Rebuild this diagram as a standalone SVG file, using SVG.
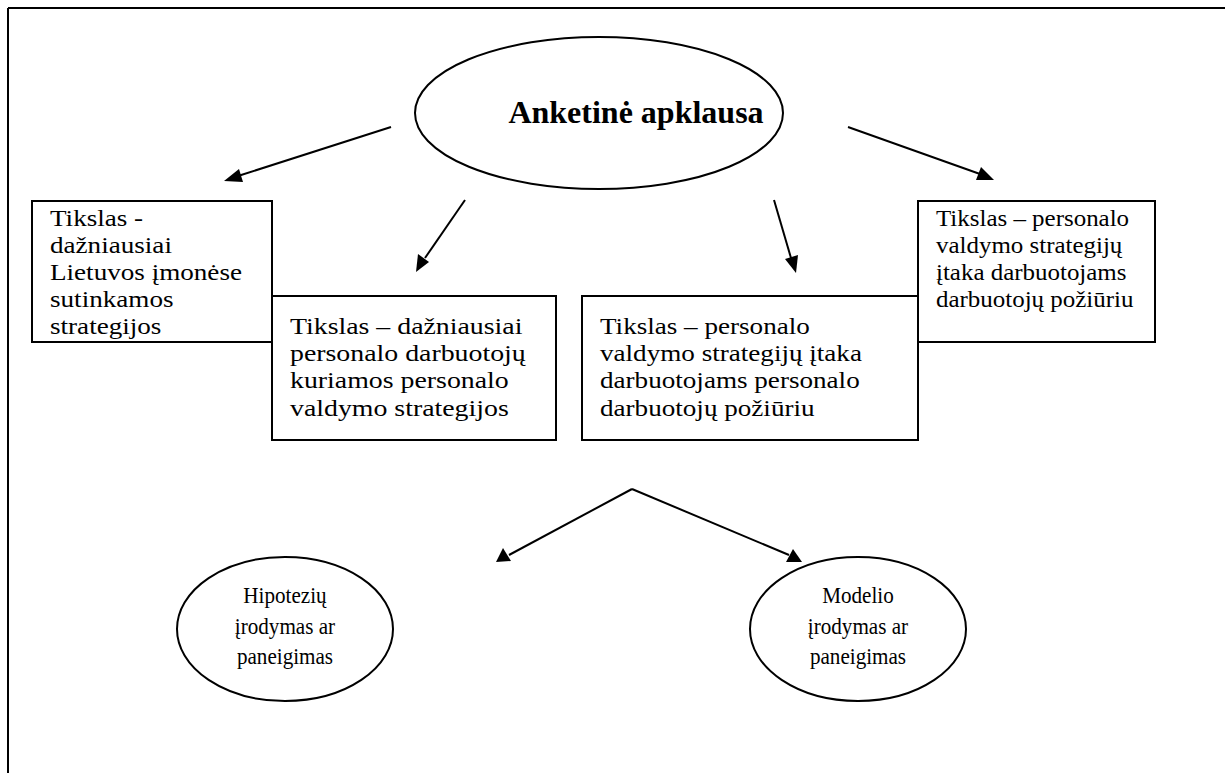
<svg xmlns="http://www.w3.org/2000/svg" width="1225" height="773" viewBox="0 0 1225 773">
<style>
.t{font-family:"Liberation Serif","Times New Roman",serif;font-size:24px;fill:#000}
.c{text-anchor:middle}
.b{fill:#fff;stroke:#000;stroke-width:2}
.e{fill:#fff;stroke:#000;stroke-width:2}
.ln{stroke:#000;stroke-width:2;fill:none}
.ah{fill:#000}
</style>
<defs>
<clipPath id="cb1"><rect x="32" y="201" width="240" height="139"/></clipPath>
</defs>
<rect width="1225" height="773" fill="#fff"/>
<g id="frame" stroke="#000" stroke-width="2" fill="none">
<line x1="8" y1="8" x2="1225" y2="8"/>
<line x1="8" y1="8" x2="8" y2="773"/>
</g>
<g id="connectors">
<line class="ln" x1="391" y1="127" x2="238" y2="176"/>
<path class="ah" d="M224,181 L239,169 L243,182 Z"/>
<line class="ln" x1="848" y1="127" x2="980" y2="174"/>
<path class="ah" d="M994,180 L976,180 L981,167 Z"/>
<line class="ln" x1="465" y1="200" x2="425" y2="258"/>
<path class="ah" d="M416,272 L418,254 L429,262 Z"/>
<line class="ln" x1="774" y1="200" x2="791" y2="258"/>
<path class="ah" d="M796,273 L785,259 L798,255 Z"/>
<line class="ln" x1="632" y1="489" x2="509" y2="555"/>
<path class="ah" d="M496,562 L503,548 L511,561 Z"/>
<line class="ln" x1="632" y1="489" x2="789" y2="555"/>
<path class="ah" d="M802,562 L786,562 L793,549 Z"/>
</g>
<g id="n-main">
<ellipse class="e" cx="599" cy="113" rx="184" ry="76"/>
<text class="t c" x="636" y="123" style="font-size:32px;font-weight:bold">Anketinė apklausa</text>
</g>
<g id="n-box1">
<rect class="b" x="32" y="201" width="240" height="141"/>
<g clip-path="url(#cb1)">
<g transform="translate(50,0) scale(1.13,1) translate(-50,0)">
<text class="t" x="50" y="226">Tikslas -</text>
<text class="t" x="50" y="253">dažniausiai</text>
<text class="t" x="50" y="280">Lietuvos įmonėse</text>
<text class="t" x="50" y="307">sutinkamos</text>
<text class="t" x="50" y="334">strategijos</text>
</g>
</g>
</g>
<g id="n-box4">
<rect class="b" x="918" y="201" width="237" height="141"/>
<g transform="translate(936,0) scale(1.04,1) translate(-936,0)">
<text class="t" x="936" y="226">Tikslas – personalo</text>
<text class="t" x="936" y="253">valdymo strategijų</text>
<text class="t" x="936" y="280">įtaka darbuotojams</text>
<text class="t" x="936" y="307">darbuotojų požiūriu</text>
</g>
</g>
<g id="n-box2">
<rect class="b" x="272" y="296" width="284" height="144"/>
<g transform="translate(290,0) scale(1.16,1) translate(-290,0)">
<text class="t" x="290" y="334">Tikslas – dažniausiai</text>
<text class="t" x="290" y="361">personalo darbuotojų</text>
<text class="t" x="290" y="388">kuriamos personalo</text>
<text class="t" x="290" y="416">valdymo strategijos</text>
</g>
</g>
<g id="n-box3">
<rect class="b" x="582" y="296" width="336" height="144"/>
<g transform="translate(600,0) scale(1.13,1) translate(-600,0)">
<text class="t" x="600" y="334">Tikslas – personalo</text>
<text class="t" x="600" y="361">valdymo strategijų įtaka</text>
<text class="t" x="600" y="388">darbuotojams personalo</text>
<text class="t" x="600" y="416">darbuotojų požiūriu</text>
</g>
</g>
<g id="n-hyp">
<ellipse class="e" cx="285" cy="629" rx="108" ry="72"/>
<g transform="translate(285,0) scale(0.88,1) translate(-285,0)">
<text class="t c" x="285" y="603">Hipotezių</text>
<text class="t c" x="285" y="634">įrodymas ar</text>
<text class="t c" x="285" y="664">paneigimas</text>
</g>
</g>
<g id="n-mod">
<ellipse class="e" cx="858" cy="629" rx="108" ry="72"/>
<g transform="translate(858,0) scale(0.88,1) translate(-858,0)">
<text class="t c" x="858" y="603">Modelio</text>
<text class="t c" x="858" y="634">įrodymas ar</text>
<text class="t c" x="858" y="664">paneigimas</text>
</g>
</g>
</svg>
